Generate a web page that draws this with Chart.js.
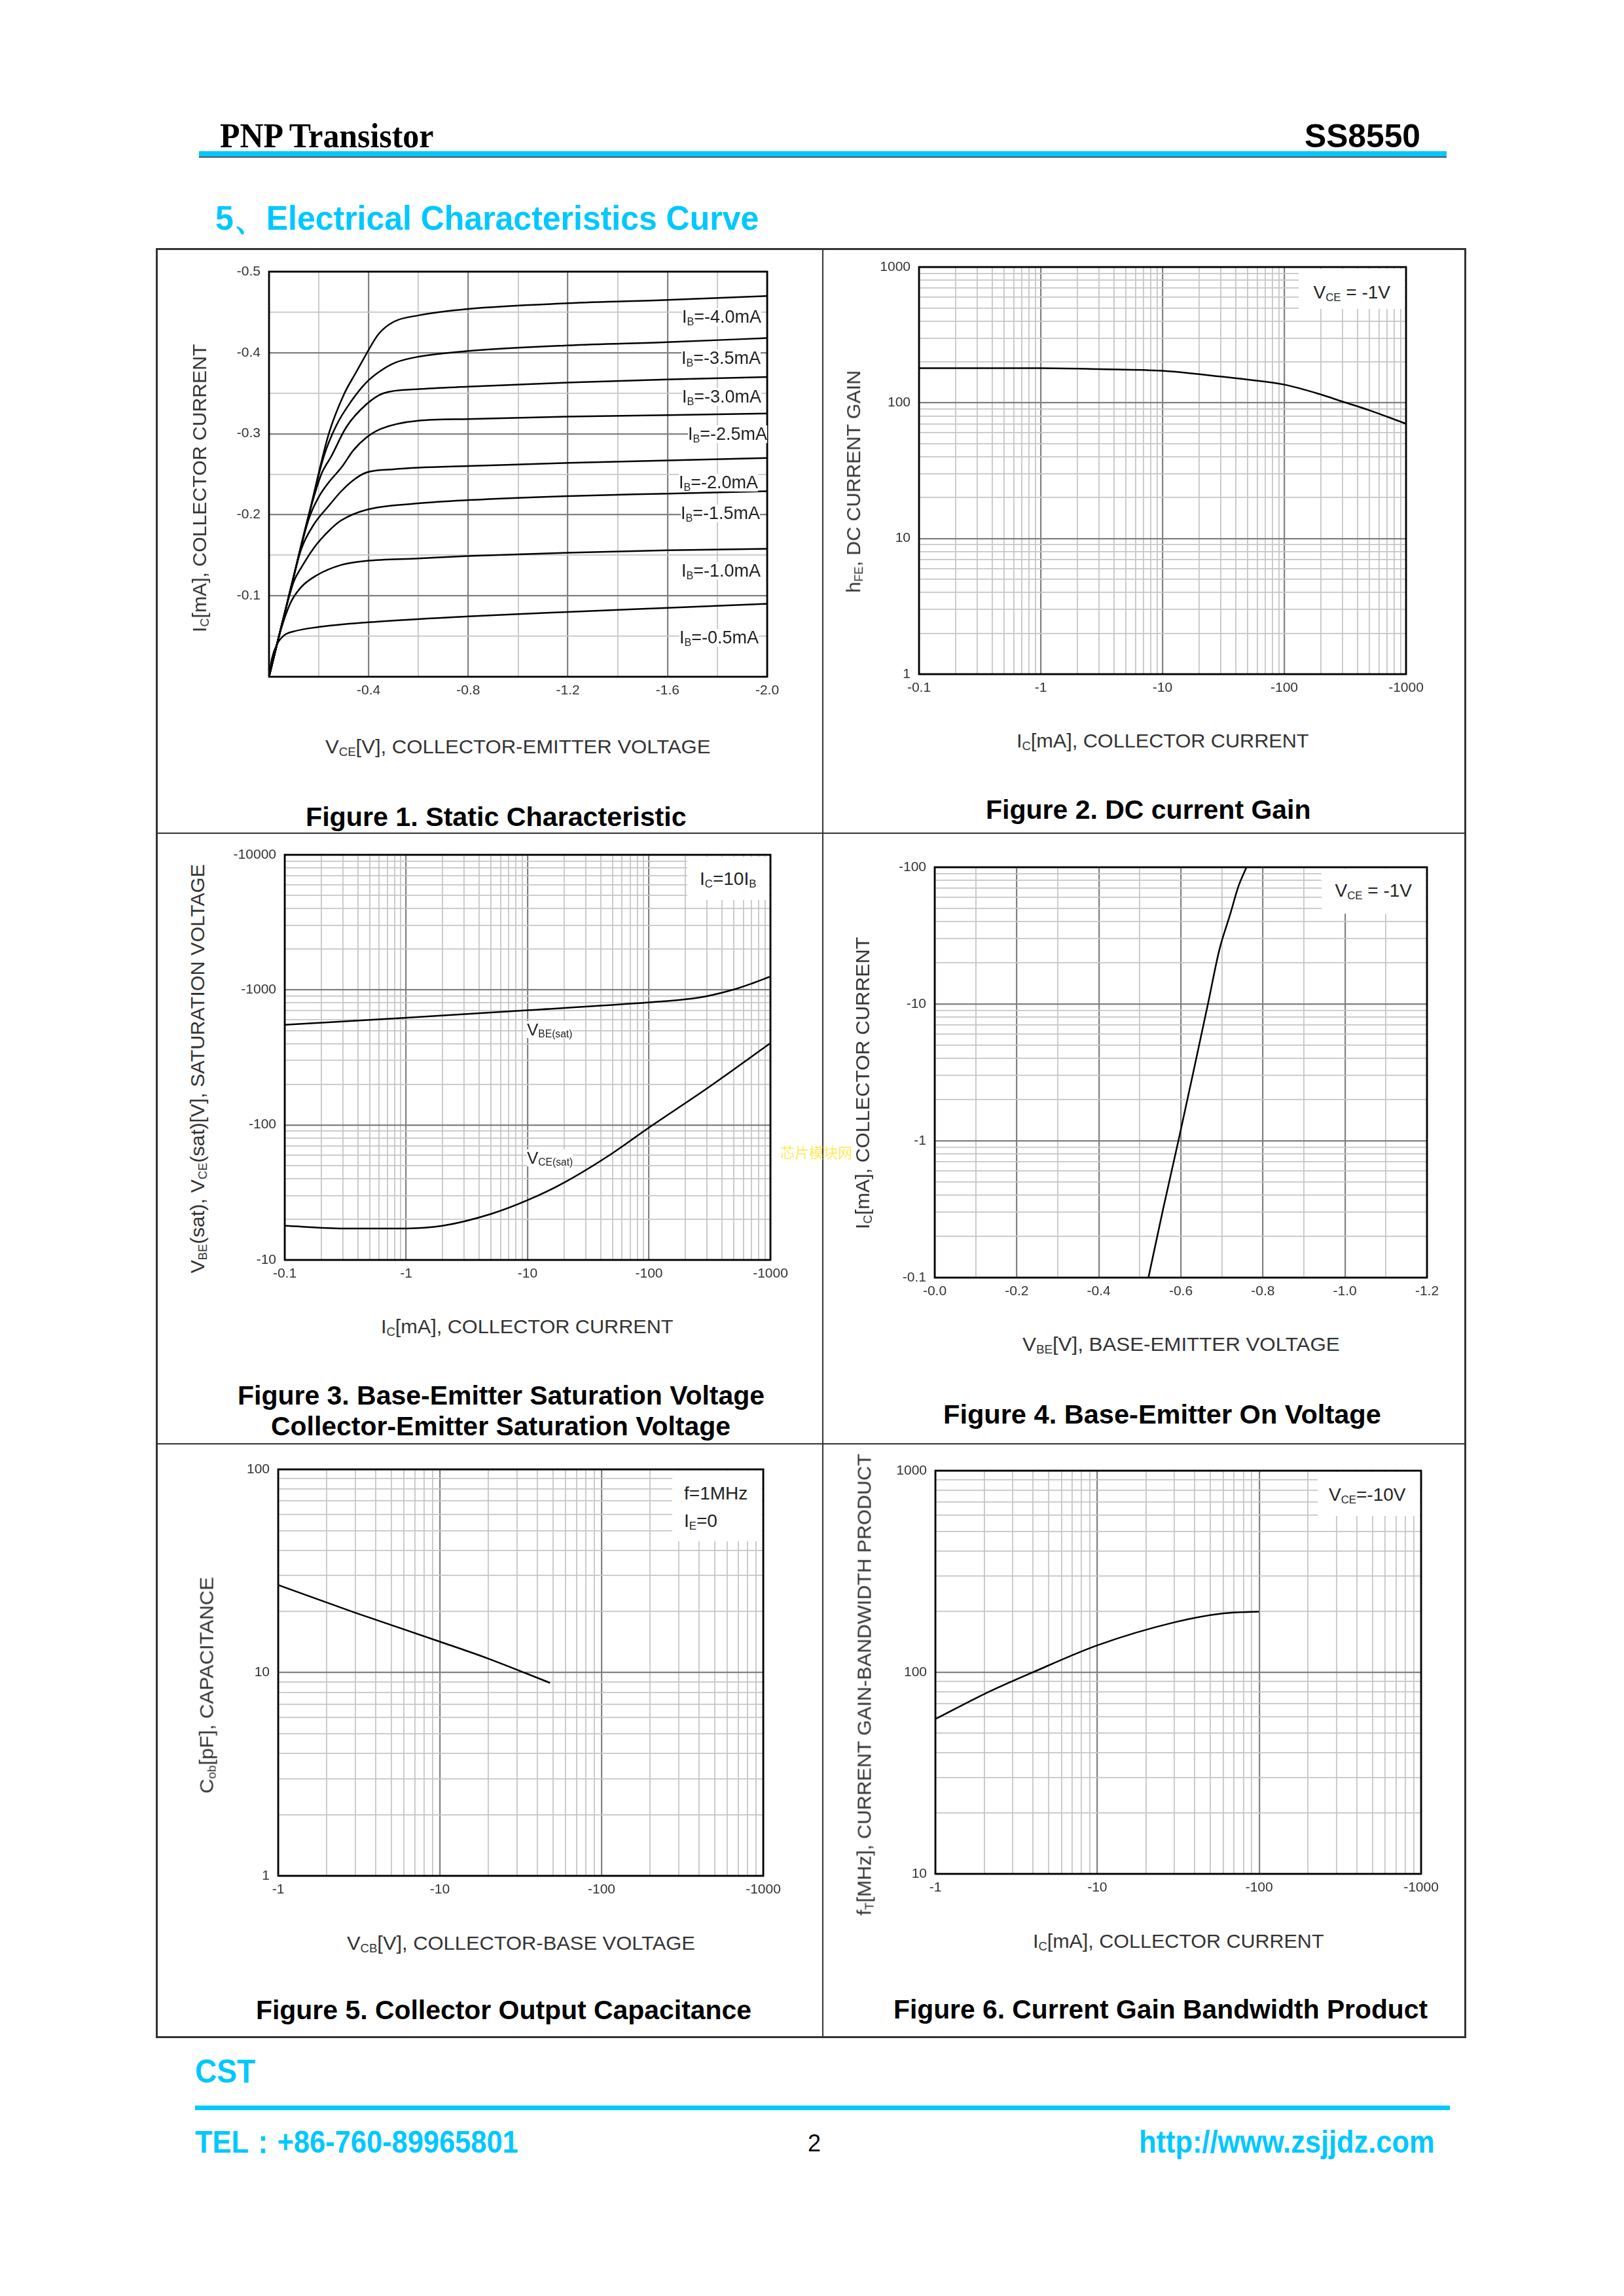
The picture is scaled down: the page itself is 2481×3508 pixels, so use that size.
<!DOCTYPE html>
<html><head><meta charset="utf-8"><title>SS8550 PNP Transistor</title>
<script src="https://cdn.jsdelivr.net/npm/chart.js@4.4.1/dist/chart.umd.min.js"></script>
<style>
html,body{margin:0;padding:0;background:#fff;}
#page{position:relative;width:2481px;height:3508px;overflow:hidden;background:#fff;}
.t{position:absolute;white-space:nowrap;line-height:1.12;font-family:"Liberation Sans",Arial,sans-serif;}
.t sub{font-size:0.6em;vertical-align:-0.22em;line-height:0;}
canvas{position:absolute;}
.r{position:absolute;}
</style></head>
<body><div id="page"></div>
<script>
// ---------------- DATA ----------------
// Figure 1: static characteristic, VCE [V] vs IC [mA]
const f1XGrid = [0,-0.2,-0.4,-0.6,-0.8,-1.0,-1.2,-1.4,-1.6,-1.8,-2.0];
const f1XTicks = [-0.4,-0.8,-1.2,-1.6,-2.0];
const f1XLabels = ['-0.4','-0.8','-1.2','-1.6','-2.0'];
const f1YGrid = [0,-0.05,-0.1,-0.15,-0.2,-0.25,-0.3,-0.35,-0.4,-0.45,-0.5];
const f1YTicks = [-0.1,-0.2,-0.3,-0.4,-0.5];
const f1YLabels = ['-0.1','-0.2','-0.3','-0.4','-0.5'];
const f1Names = ['-4.0mA','-3.5mA','-3.0mA','-2.5mA','-2.0mA','-1.5mA','-1.0mA','-0.5mA'];
const ib40V = [0,-0.08,-0.16,-0.24,-0.3,-0.35,-0.39,-0.44,-0.5,-0.6,-0.8,-1.2,-1.6,-2.0];
const ib40I = [0,-0.1,-0.2,-0.3,-0.348,-0.376,-0.398,-0.423,-0.438,-0.446,-0.454,-0.461,-0.465,-0.47];
const ib35V = [0,-0.08,-0.16,-0.22,-0.27,-0.33,-0.39,-0.45,-0.51,-0.6,-0.8,-1.2,-1.6,-2.0];
const ib35I = [0,-0.1,-0.2,-0.272,-0.31,-0.34,-0.363,-0.378,-0.388,-0.395,-0.402,-0.409,-0.413,-0.418];
const ib30V = [0,-0.08,-0.16,-0.21,-0.25,-0.31,-0.39,-0.46,-0.6,-0.8,-1.2,-1.6,-2.0];
const ib30I = [0,-0.1,-0.2,-0.25,-0.272,-0.308,-0.336,-0.35,-0.355,-0.358,-0.363,-0.367,-0.37];
const ib25V = [0,-0.08,-0.16,-0.2,-0.24,-0.29,-0.34,-0.39,-0.45,-0.6,-0.8,-1.2,-1.6,-2.0];
const ib25I = [0,-0.1,-0.195,-0.222,-0.24,-0.258,-0.28,-0.295,-0.306,-0.316,-0.318,-0.321,-0.323,-0.325];
const ib20V = [0,-0.08,-0.13,-0.18,-0.24,-0.29,-0.34,-0.39,-0.5,-0.6,-0.8,-1.2,-1.6,-2.0];
const ib20I = [0,-0.1,-0.158,-0.188,-0.211,-0.229,-0.243,-0.252,-0.256,-0.258,-0.26,-0.264,-0.267,-0.27];
const ib15V = [0,-0.06,-0.1,-0.13,-0.18,-0.24,-0.29,-0.39,-0.6,-0.8,-1.2,-1.6,-2.0];
const ib15I = [0,-0.075,-0.118,-0.135,-0.159,-0.18,-0.193,-0.206,-0.214,-0.218,-0.223,-0.226,-0.229];
const ib10V = [0,-0.04,-0.086,-0.13,-0.19,-0.29,-0.39,-0.6,-0.8,-1.2,-1.6,-2.0];
const ib10I = [0,-0.05,-0.091,-0.111,-0.125,-0.138,-0.143,-0.146,-0.149,-0.153,-0.156,-0.158];
const ib05V = [0,-0.012,-0.032,-0.06,-0.1,-0.19,-0.39,-0.8,-1.2,-1.6,-2.0];
const ib05I = [0,-0.023,-0.04,-0.051,-0.056,-0.061,-0.067,-0.0745,-0.08,-0.085,-0.09];

// Figure 2: DC current gain (|IC| mA vs hFE), VCE=-1V
const f2Ic  = [0.1,1,3,10,30,50,100,200,300,500,1000];
const f2Hfe = [180,180,177,172,156,148,136,115,102,88,70];
const f2XTicks = [0.1,1,10,100,1000];
const f2XLabels = ['-0.1','-1','-10','-100','-1000'];
const f2YTicks = [1,10,100,1000];
const f2YLabels = ['1','10','100','1000'];

// Figure 3: saturation voltages (|IC| mA vs |V| mV), IC=10IB
const f3IcCe = [0.1,0.3,1,2,5,10,20,50,100,300,1000];
const f3Vce  = [17.9,17.1,17.1,17.9,21.9,27.7,37.4,61.7,95.5,186,403];
const f3IcBe = [0.1,1,10,100,200,300,500,700,1000];
const f3Vbe  = [551,622,706,807,851,898,1006,1113,1256];
const f3XTicks = [0.1,1,10,100,1000];
const f3XLabels = ['-0.1','-1','-10','-100','-1000'];
const f3YTicks = [10,100,1000,10000];
const f3YLabels = ['-10','-100','-1000','-10000'];

// Figure 4: base-emitter on voltage (VBE V vs |IC| mA), VCE=-1V
const f4Vbe = [-0.521,-0.557,-0.594,-0.631,-0.666,-0.694,-0.72,-0.74,-0.76];
const f4Ic  = [0.1,0.32,1,3.24,10,25,45,72,100];
const f4XGrid = [0,-0.1,-0.2,-0.3,-0.4,-0.5,-0.6,-0.7,-0.8,-0.9,-1.0,-1.1,-1.2];
const f4XTicks = [0,-0.2,-0.4,-0.6,-0.8,-1.0,-1.2];
const f4XLabels = ['-0.0','-0.2','-0.4','-0.6','-0.8','-1.0','-1.2'];
const f4YTicks = [0.1,1,10,100];
const f4YLabels = ['-0.1','-1','-10','-100'];

// Figure 5: collector output capacitance (|VCB| V vs Cob pF)
const f5Vcb = [1,3,10,20,48];
const f5Cob = [27,19.7,14.2,11.7,8.9];
const f5XTicks = [1,10,100,1000];
const f5XLabels = ['-1','-10','-100','-1000'];
const f5YTicks = [1,10,100];
const f5YLabels = ['1','10','100'];

// Figure 6: current gain bandwidth product (|IC| mA vs fT MHz), VCE=-10V
const f6Ic = [1,2.14,4,10,30,60,100];
const f6Ft = [58.6,80,100,136,177,196,200];
const f6XTicks = [1,10,100,1000];
const f6XLabels = ['-1','-10','-100','-1000'];
const f6YTicks = [10,100,1000];
const f6YLabels = ['10','100','1000'];

// ---------------- RENDER HELPERS ----------------
const page = document.getElementById('page');
const FONT = '"Liberation Sans", Arial, sans-serif';
const CYAN = '#00c8ff';

function near(a,b){ return Math.abs(a-b) <= Math.max(Math.abs(a),Math.abs(b))*1e-6 + 1e-9; }
function logGrid(lo,hi){ const g=[]; for(let d=lo; d<hi/1.0001; d*=10){ for(let m=1;m<10;m++) g.push(Number((d*m).toPrecision(4))); } g.push(hi); return g; }

function axisCfg(o){
  const isMaj = v => v !== undefined && o.major.some(m => near(m,v));
  return {
    type:o.type, min:o.min, max:o.max, reverse:!!o.reverse,
    afterBuildTicks: s => { s.ticks = o.grid.map(v => ({value:v})); },
    afterFit: s => { if(o.w!==undefined) s.width=o.w; if(o.h!==undefined) s.height=o.h; },
    ticks:{autoSkip:false, maxRotation:0, minRotation:0, padding:o.pad, color:'#333',
      font:{family:FONT, size:21},
      callback: v => { const i=o.major.findIndex(m=>near(m,v)); return i>=0 ? o.labels[i] : ''; }},
    grid:{drawTicks:false,
      color: c => isMaj(c.tick && c.tick.value) ? '#808080' : '#c6c6c6',
      lineWidth: c => isMaj(c.tick && c.tick.value) ? 2.2 : 1.8},
    border:{display:false}
  };
}
const framePlugin = {id:'frame', afterDraw(ch){ const a=ch.chartArea, c=ch.ctx; c.save(); c.strokeStyle='#000'; c.lineWidth=2.8; c.strokeRect(a.left,a.top,a.right-a.left,a.bottom-a.top); c.restore(); }};

function curve(xs, ys){ return {data: xs.map((x,i)=>({x:x, y:ys[i]})), showLine:true, borderColor:'#000', borderWidth:2.5, pointRadius:0, fill:false, cubicInterpolationMode:'monotone'}; }

function makeChart(rect, xs, ys, datasets){
  const padL=10,padT=30,padR=45,padB=10,yW=95,xH=50;
  const W = padL+yW+(rect.R-rect.L)+padR, H = padT+(rect.B-rect.T)+xH+padB;
  const cv = document.createElement('canvas');
  cv.width=W; cv.height=H;
  Object.assign(cv.style,{left:(rect.L-padL-yW)+'px', top:(rect.T-padT)+'px', width:W+'px', height:H+'px'});
  page.appendChild(cv);
  xs.h=xH; xs.pad=9; ys.w=yW; ys.pad=13;
  new Chart(cv.getContext('2d'), {
    type:'scatter',
    data:{datasets:datasets},
    options:{responsive:false, animation:false, devicePixelRatio:1,
      layout:{padding:{left:padL,top:padT,right:padR,bottom:padB}},
      plugins:{legend:{display:false}, tooltip:{enabled:false}},
      scales:{x:axisCfg(xs), y:axisCfg(ys)}},
    plugins:[framePlugin]
  });
}

function T(html, x, y, o){
  o = o||{};
  const el=document.createElement('div');
  el.className='t'; el.innerHTML=html;
  el.style.fontSize=(o.size||30)+'px';
  if(o.bold) el.style.fontWeight='bold';
  if(o.family) el.style.fontFamily=o.family;
  el.style.color=o.color||'#000';
  if(o.bg){ el.style.background=o.bg; el.style.lineHeight='1.0'; }
  page.appendChild(el);
  const w=el.offsetWidth, h=el.offsetHeight;
  const s=o.fit ? o.fit/w : 1;
  if(o.rot){
    el.style.left=(x-w/2)+'px'; el.style.top=(y-h/2)+'px';
    el.style.transformOrigin='50% 50%';
    el.style.transform='rotate(-90deg) scaleX('+s+')';
  } else {
    const ax = o.anchor==='l'?0:(o.anchor==='r'?1:0.5);
    el.style.left=(x-w*s*ax)+'px'; el.style.top=(y-h/2)+'px';
    el.style.transformOrigin='0 50%';
    el.style.transform='scaleX('+s+')';
  }
  return el;
}
function R(x,y,w,h,c){ const d=document.createElement('div'); d.className='r'; Object.assign(d.style,{left:x+'px',top:y+'px',width:w+'px',height:h+'px',background:c}); page.appendChild(d); }

// ---------------- PAGE ----------------
// header
T('PNP Transistor', 336, 208, {size:52, bold:true, family:'"Liberation Serif","Times New Roman",serif', anchor:'l', fit:326});
T('SS8550', 2170, 208, {size:50, bold:true, anchor:'r', fit:177});
R(304,231,1906,8,CYAN); R(304,239,1906,2,'#555');
T('5、Electrical Characteristics Curve', 329, 333, {size:52, bold:true, color:CYAN, anchor:'l', fit:830});

// charts
makeChart({L:411,T:415,R:1172,B:1034},
  {type:'linear', min:-2, max:0, reverse:true, grid:f1XGrid, major:f1XTicks, labels:f1XLabels},
  {type:'linear', min:-0.5, max:0, reverse:true, grid:f1YGrid, major:f1YTicks, labels:f1YLabels},
  [curve(ib40V,ib40I),curve(ib35V,ib35I),curve(ib30V,ib30I),curve(ib25V,ib25I),
   curve(ib20V,ib20I),curve(ib15V,ib15I),curve(ib10V,ib10I),curve(ib05V,ib05I)]);

makeChart({L:1404,T:408,R:2148,B:1030},
  {type:'logarithmic', min:0.1, max:1000, grid:logGrid(0.1,1000), major:f2XTicks, labels:f2XLabels},
  {type:'logarithmic', min:1, max:1000, grid:logGrid(1,1000), major:f2YTicks, labels:f2YLabels},
  [curve(f2Ic,f2Hfe)]);

makeChart({L:435,T:1306,R:1177,B:1925},
  {type:'logarithmic', min:0.1, max:1000, grid:logGrid(0.1,1000), major:f3XTicks, labels:f3XLabels},
  {type:'logarithmic', min:10, max:10000, grid:logGrid(10,10000), major:f3YTicks, labels:f3YLabels},
  [curve(f3IcBe,f3Vbe), curve(f3IcCe,f3Vce)]);

makeChart({L:1428,T:1325,R:2180,B:1952},
  {type:'linear', min:-1.2, max:0, reverse:true, grid:f4XGrid, major:f4XTicks, labels:f4XLabels},
  {type:'logarithmic', min:0.1, max:100, grid:logGrid(0.1,100), major:f4YTicks, labels:f4YLabels},
  [curve(f4Vbe,f4Ic)]);

makeChart({L:425,T:2245,R:1166,B:2866},
  {type:'logarithmic', min:1, max:1000, grid:logGrid(1,1000), major:f5XTicks, labels:f5XLabels},
  {type:'logarithmic', min:1, max:100, grid:logGrid(1,100), major:f5YTicks, labels:f5YLabels},
  [curve(f5Vcb,f5Cob)]);

makeChart({L:1429,T:2247,R:2171,B:2863},
  {type:'logarithmic', min:1, max:1000, grid:logGrid(1,1000), major:f6XTicks, labels:f6XLabels},
  {type:'logarithmic', min:10, max:1000, grid:logGrid(10,1000), major:f6YTicks, labels:f6YLabels},
  [curve(f6Ic,f6Ft)]);

// table frame
R(238,379,2002,3,'#333'); R(238,3111,2002,3,'#333');
R(238,379,3,2735,'#333'); R(2237,379,3,2735,'#333');
R(1256,380,2,2733,'#333');
R(238,1272,2002,2,'#333'); R(238,2205,2002,2,'#333');

// watermark
T('芯片模块网', 1192, 1759, {size:22, color:'#ffe95a', anchor:'l', family:'"Noto Sans CJK SC",sans-serif'});

// Figure 1 annotations
const f1LabelPos = [[1163,484],[1162,547],[1163,606],[1172,663],[1158,737],[1161,784],[1162,872],[1159,974]];
f1Names.forEach((n,i)=>T('I<sub>B</sub>='+n, f1LabelPos[i][0], f1LabelPos[i][1], {size:27, color:'#222', anchor:'r', bg:'#fff'}));
T('V<sub>CE</sub>[V], COLLECTOR-EMITTER VOLTAGE', 791, 1141, {size:30, color:'#333', fit:588});
T('I<sub>C</sub>[mA], COLLECTOR CURRENT', 305, 746, {size:30, color:'#333', rot:true, fit:441});
T('Figure 1. Static Characteristic', 758, 1248, {size:40, bold:true, fit:582});

// Figure 2 annotations
R(1984,411,162,61,'#fff');
T('V<sub>CE</sub> = -1V', 2065, 446, {size:28, color:'#222'});
T('I<sub>C</sub>[mA], COLLECTOR CURRENT', 1776, 1132, {size:30, color:'#333', fit:447});
T('h<sub>FE</sub>, DC CURRENT GAIN', 1304, 736, {size:30, color:'#333', rot:true, fit:340});
T('Figure 2. DC current Gain', 1754, 1237, {size:40, bold:true, fit:497});

// Figure 3 annotations
R(1050,1309,125,66,'#fff');
T('I<sub>C</sub>=10I<sub>B</sub>', 1112, 1342, {size:28, color:'#222'});
T('V<sub>BE(sat)</sub>', 805, 1573, {size:26, color:'#222', anchor:'l', bg:'#fff'});
T('V<sub>CE(sat)</sub>', 805, 1769, {size:26, color:'#222', anchor:'l', bg:'#fff'});
T('I<sub>C</sub>[mA], COLLECTOR CURRENT', 805, 2027, {size:30, color:'#333', fit:447});
T('V<sub>BE</sub>(sat), V<sub>CE</sub>(sat)[V], SATURATION VOLTAGE', 302, 1633, {size:30, color:'#333', rot:true, fit:626});
T('Figure 3. Base-Emitter Saturation Voltage', 765, 2132, {size:40, bold:true, fit:805});
T('Collector-Emitter Saturation Voltage', 765, 2179, {size:40, bold:true, fit:702});

// Figure 4 annotations
R(2019,1327,159,69,'#fff');
T('V<sub>CE</sub> = -1V', 2098, 1360, {size:28, color:'#222'});
T('V<sub>BE</sub>[V], BASE-EMITTER VOLTAGE', 1804, 2054, {size:30, color:'#333', fit:485});
T('I<sub>C</sub>[mA], COLLECTOR CURRENT', 1318, 1655, {size:30, color:'#333', rot:true, fit:447});
T('Figure 4. Base-Emitter On Voltage', 1775, 2161, {size:40, bold:true, fit:669});

// Figure 5 annotations
R(1027,2247,137,108,'#fff');
T('f=1MHz', 1045, 2281, {size:28, color:'#222', anchor:'l'});
T('I<sub>E</sub>=0', 1045, 2323, {size:28, color:'#222', anchor:'l'});
T('V<sub>CB</sub>[V], COLLECTOR-BASE VOLTAGE', 796, 2969, {size:30, color:'#333', fit:532});
T('C<sub>ob</sub>[pF], CAPACITANCE', 315, 2575, {size:30, color:'#333', rot:true, fit:331});
T('Figure 5. Collector Output Capacitance', 769, 3071, {size:40, bold:true, fit:757});

// Figure 6 annotations
R(2013,2249,156,67,'#fff');
T('V<sub>CE</sub>=-10V', 2089, 2283, {size:28, color:'#222'});
T('I<sub>C</sub>[mA], COLLECTOR CURRENT', 1800, 2966, {size:30, color:'#333', fit:445});
T('f<sub>T</sub>[MHz], CURRENT GAIN-BANDWIDTH PRODUCT', 1320, 2574, {size:30, color:'#333', rot:true, fit:705});
T('Figure 6. Current Gain Bandwidth Product', 1773, 3070, {size:40, bold:true, fit:816});

// footer
T('CST', 298, 3165, {size:50, bold:true, color:CYAN, anchor:'l', fit:92});
R(298,3217,1917,7,CYAN);
T('TEL：+86-760-89965801', 298, 3273, {size:48, bold:true, color:CYAN, anchor:'l', fit:494});
T('2', 1244, 3275, {size:36});
T('http://www.zsjjdz.com', 2192, 3273, {size:48, bold:true, color:CYAN, anchor:'r', fit:452});
</script></body></html>
